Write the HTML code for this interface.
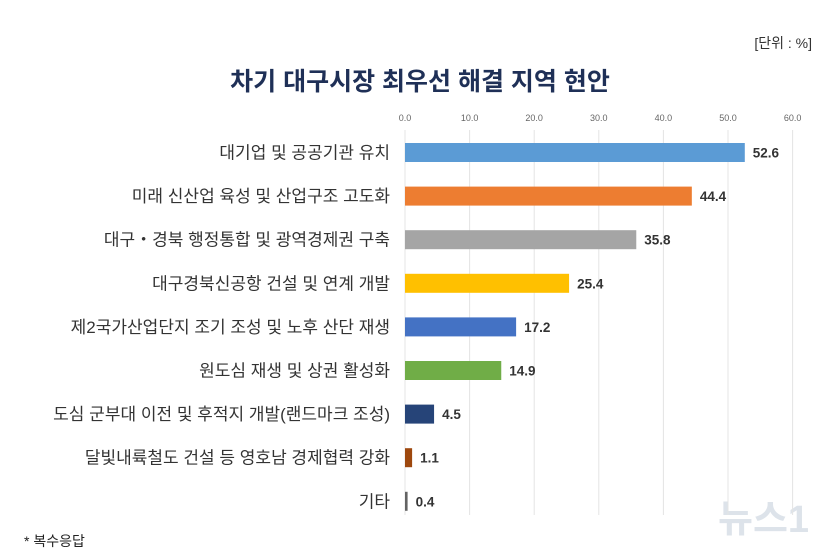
<!DOCTYPE html>
<html><head><meta charset="utf-8"><style>
body{margin:0;background:#fff;width:832px;height:558px;overflow:hidden;font-family:"Liberation Sans","Noto Sans CJK KR",sans-serif}
svg{display:block}
</style></head><body>
<svg id="chart" width="832" height="558" xmlns="http://www.w3.org/2000/svg">
<text x="812" y="48" text-anchor="end" font-size="14" fill="#333" font-family="Liberation Sans, Noto Sans CJK KR, sans-serif">[단위 : %]</text>
<text x="420" y="90" text-anchor="middle" font-size="25" font-weight="bold" fill="#1f3057" font-family="Liberation Sans, Noto Sans CJK KR, sans-serif">차기 대구시장 최우선 해결 지역 현안</text>
<text x="24" y="546" font-size="14" fill="#222" font-family="Liberation Sans, Noto Sans CJK KR, sans-serif">*  복수응답</text>
<text x="718" y="532" font-size="38" font-weight="bold" fill="#dde3ea" font-family="Liberation Sans, Noto Sans CJK KR, sans-serif">뉴스1</text>
<g id="grid"></g><g id="bars"></g>
</svg>
<script>
const categories=["대기업 및 공공기관 유치","미래 신산업 육성 및 산업구조 고도화","대구・경북 행정통합 및 광역경제권 구축","대구경북신공항 건설 및 연계 개발","제2국가산업단지 조기 조성 및 노후 산단 재생","원도심 재생 및 상권 활성화","도심 군부대 이전 및 후적지 개발(랜드마크 조성)","달빛내륙철도 건설 등 영호남 경제협력 강화","기타"];
const values=[52.6,44.4,35.8,25.4,17.2,14.9,4.5,1.1,0.4];
const ticks=[0,10,20,30,40,50,60];
const colors=["#5b9bd5","#ed7d31","#a5a5a5","#ffc000","#4472c4","#70ad47","#264478","#9e480e","#636363"];
const NS="http://www.w3.org/2000/svg";
const x0=405,scale=6.46,y0=152.5,step=43.6,bh=19;
const xs=v=>x0+v*scale, ys=i=>y0+i*step;
const grid=document.getElementById('grid'),bars=document.getElementById('bars');
function mk(t,a,p){const e=document.createElementNS(NS,t);for(const k in a)e.setAttribute(k,a[k]);p.appendChild(e);return e;}
ticks.forEach(t=>{
 const l=mk('line',{x1:xs(t),x2:xs(t),y1:130,y2:515,stroke:'#e4e4e4','stroke-width':1},grid);
 
 
 const tx=mk('text',{x:xs(t),y:121,'text-anchor':'middle','font-size':9,fill:'#666'},grid);
 tx.textContent=t.toFixed(1);
 
 
});
categories.forEach((c,i)=>{
 const y=ys(i);
 const lb=mk('text',{x:390,y:y+6,'text-anchor':'end','font-size':17,fill:'#333'},bars);
 lb.textContent=c;
 
 
 const r=mk('rect',{x:x0,y:y-bh/2,width:Math.max(values[i]*scale,1.5),height:bh,fill:colors[i]},bars);
 
 
 const v=mk('text',{x:xs(values[i])+8,y:y+5,'font-size':13.5,'font-weight':'bold',fill:'#333'},bars);
 v.textContent=values[i].toFixed(1);
 
 
});
</script>
</body></html>
